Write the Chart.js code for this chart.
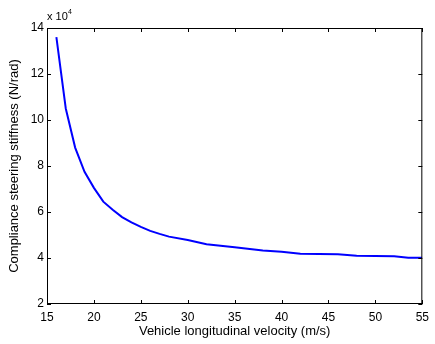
<!DOCTYPE html>
<html>
<head>
<meta charset="utf-8">
<script src="https://cdn.jsdelivr.net/npm/chart.js@4/dist/chart.umd.min.js"></script>
<style>
  html, body { margin: 0; padding: 0; background: #fff; }
  #wrap { width: 435px; height: 344px; }
</style>
</head>
<body>
<div id="wrap"><canvas id="stiffness"></canvas></div>
<script>
// velocity (m/s) and compliance steering stiffness (x 10^4 N/rad)
const velocity = [16, 17, 18, 19, 20, 21, 22, 23, 24, 25, 26, 27, 28, 30, 32, 35, 38, 40, 42, 46, 48, 52, 53.5, 55];
const stiffness = [13.6, 10.5, 8.8, 7.75, 7.05, 6.45, 6.1, 5.78, 5.55, 5.35, 5.18, 5.05, 4.93, 4.78, 4.6, 4.47, 4.33, 4.27, 4.18, 4.16, 4.1, 4.08, 4.01, 4.01];
const xTicks = [15, 20, 25, 30, 35, 40, 45, 50, 55];
const yTicks = [2, 4, 6, 8, 10, 12, 14];

const FONT = 'Liberation Sans, Arial, sans-serif';

// matlab style box: inward ticks on all four sides + exponent label
const boxPlugin = {
  id: 'box',
  afterDraw(chart) {
    const ctx = chart.ctx;
    const a = chart.chartArea;
    const xs = chart.scales.x, ys = chart.scales.y;
    ctx.save();
    ctx.strokeStyle = '#000';
    ctx.lineWidth = 1;
    ctx.strokeRect(a.left + 0.5, a.top + 0.5, a.right - a.left - 1, a.bottom - a.top - 1);
    ctx.beginPath();
    const len = 4;
    xTicks.forEach(v => {
      const px = Math.round(xs.getPixelForValue(v)) + 0.5;
      ctx.moveTo(px, a.bottom); ctx.lineTo(px, a.bottom - len);
      ctx.moveTo(px, a.top); ctx.lineTo(px, a.top + len);
    });
    yTicks.forEach(v => {
      const py = Math.round(ys.getPixelForValue(v)) + 0.5;
      ctx.moveTo(a.left, py); ctx.lineTo(a.left + len, py);
      ctx.moveTo(a.right, py); ctx.lineTo(a.right - len, py);
    });
    ctx.stroke();
    ctx.fillStyle = '#000';
    ctx.textBaseline = 'alphabetic';
    ctx.textAlign = 'left';
    ctx.font = '11px ' + FONT;
    ctx.fillText('x 10', a.left, a.top - 8);
    ctx.font = '7px ' + FONT;
    ctx.fillText('4', a.left + 21, a.top - 14);
    ctx.restore();
  }
};

new Chart(document.getElementById('stiffness'), {
  type: 'scatter',
  data: {
    datasets: [{
      data: velocity.map((v, i) => ({ x: v, y: stiffness[i] })),
      showLine: true,
      borderColor: '#0000ff',
      borderWidth: 2,
      pointRadius: 0,
      tension: 0
    }]
  },
  options: {
    responsive: true,
    maintainAspectRatio: false,
    animation: false,
    layout: { padding: { top: 28, right: 4, left: 0, bottom: 5 } },
    plugins: { legend: { display: false }, tooltip: { enabled: false } },
    scales: {
      x: {
        type: 'linear',
        min: 15, max: 55,
        afterBuildTicks: s => { s.ticks = xTicks.map(v => ({ value: v })); },
        afterFit: s => { s.height = 35; },
        grid: { display: false, drawTicks: false },
        border: { display: false },
        ticks: { color: '#000', font: { family: FONT, size: 12 }, padding: 6, maxRotation: 0 },
        title: { display: true, text: 'Vehicle longitudinal velocity (m/s)', color: '#000', font: { family: FONT, size: 13 }, padding: { top: 0, bottom: 0 } }
      },
      y: {
        type: 'linear',
        min: 2, max: 14,
        afterBuildTicks: s => { s.ticks = yTicks.map(v => ({ value: v })); },
        afterFit: s => { s.width = 47; },
        grid: { display: false, drawTicks: false },
        border: { display: false },
        ticks: { color: '#000', font: { family: FONT, size: 12 }, padding: 3 },
        title: { display: true, text: 'Compliance steering stiffness (N/rad)', color: '#000', font: { family: FONT, size: 13 }, padding: { top: 7, bottom: 0 } }
      }
    }
  },
  plugins: [boxPlugin]
});
</script>
</body>
</html>
